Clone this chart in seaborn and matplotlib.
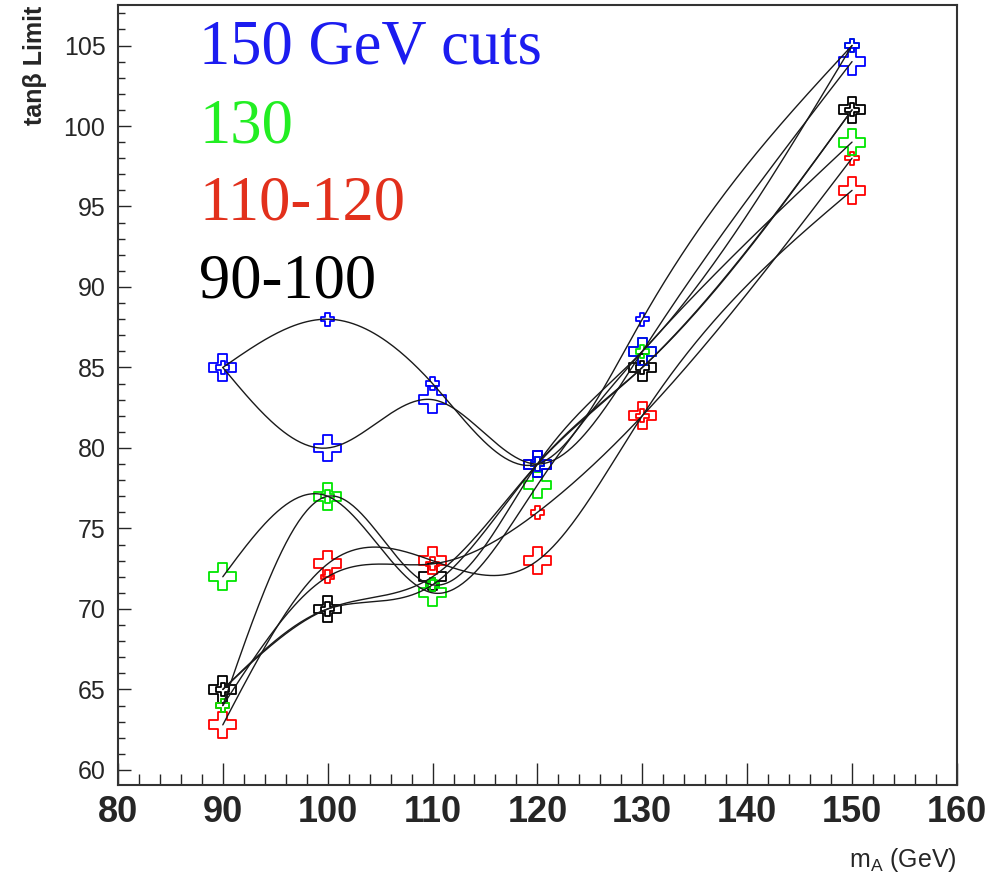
import numpy as np
import pandas as pd
import matplotlib
matplotlib.use('Agg')
import matplotlib.pyplot as plt
from matplotlib.ticker import MultipleLocator
import seaborn as sns

# Higgs mass points (GeV)
m_A = [90, 100, 110, 120, 130, 150]

# tan(beta) limits, two sets per cut (large / small markers)
blue_large  = [85, 80, 83, 79, 86, 104]
blue_small  = [85, 88, 84, 79, 88, 105]
green_large = [72, 77, 71, 77.7, 86, 99]
green_small = [64, 77, 71.5, 79, 86, 105]
red_large   = [62.8, 72.8, 73, 73, 82, 96]
red_small   = [64, 72, 72.8, 76, 82, 98]
black_large = [65, 70, 72, 79, 85, 101]
black_small = [65, 70, 71.5, 79, 85, 101]

legend_labels = ['150 GeV cuts', '130', '110-120', '90-100']
legend_colors = ['#1c1cf0', '#22ee22', '#e2301c', 'black']

# drawing order: blue last so it sits on top
series = [
    ('black', 'large', black_large), ('black', 'small', black_small),
    ('red', 'large', red_large), ('red', 'small', red_small),
    ('green', 'large', green_large), ('green', 'small', green_small),
    ('blue', 'large', blue_large), ('blue', 'small', blue_small),
]
marker_colors = {'blue': '#0000ff', 'green': '#00e600', 'red': '#ff0000', 'black': 'black'}
marker_sizes = {'large': 370, 'small': 90}


# natural cubic spline, like ROOT's smooth "C" draw option
def smooth_curve(x, y, n=300):
    x = np.asarray(x, float)
    y = np.asarray(y, float)
    k = len(x)
    h = np.diff(x)
    A = np.zeros((k, k))
    b = np.zeros(k)
    A[0, 0] = A[-1, -1] = 1
    for i in range(1, k - 1):
        A[i, i - 1] = h[i - 1]
        A[i, i] = 2 * (h[i - 1] + h[i])
        A[i, i + 1] = h[i]
        b[i] = 6 * ((y[i + 1] - y[i]) / h[i] - (y[i] - y[i - 1]) / h[i - 1])
    M = np.linalg.solve(A, b)
    xs = np.linspace(x[0], x[-1], n)
    idx = np.clip(np.searchsorted(x, xs) - 1, 0, k - 2)
    x0, x1 = x[idx], x[idx + 1]
    hh = x1 - x0
    t0 = x1 - xs
    t1 = xs - x0
    ys = (M[idx] * t0**3 + M[idx + 1] * t1**3) / (6 * hh) \
        + (y[idx] / hh - M[idx] * hh / 6) * t0 \
        + (y[idx + 1] / hh - M[idx + 1] * hh / 6) * t1
    return xs, ys


curves = []
for color, size, vals in series:
    xs, ys = smooth_curve(m_A, vals)
    curves.append(pd.DataFrame({'m_A': xs, 'limit': ys, 'id': color + size}))
curves = pd.concat(curves, ignore_index=True)

sns.set_style('ticks')
plt.rcParams['font.family'] = ['Liberation Sans', 'DejaVu Sans']

fig = plt.figure(figsize=(9.91, 8.77), dpi=100)
ax = fig.add_axes([0.119, 0.105, 0.8466, 0.889])

# markers (open crosses)
for color, size, vals in series:
    pts = sns.scatterplot(x=m_A, y=vals, marker='P', s=marker_sizes[size],
                          color=marker_colors[color], linewidth=1.3, ax=ax, zorder=3)
for coll in ax.collections:
    ec = coll.get_facecolor()
    coll.set_edgecolor(ec)
    coll.set_facecolor('none')

# smooth curves
sns.lineplot(data=curves, x='m_A', y='limit', units='id', estimator=None,
             color='#1a1a1a', lw=1.0, sort=False, ax=ax, zorder=4)

ax.set_xlim(80, 160)
ax.set_ylim(59.07, 107.5)
ax.xaxis.set_major_locator(MultipleLocator(10))
ax.xaxis.set_minor_locator(MultipleLocator(2))
ax.yaxis.set_major_locator(MultipleLocator(5))
ax.yaxis.set_minor_locator(MultipleLocator(1))
ax.tick_params(axis='x', which='major', direction='in', length=16, width=1, pad=7)
ax.tick_params(axis='x', which='minor', direction='in', length=8, width=1)
ax.tick_params(axis='y', which='major', direction='in', length=9, width=1, pad=9,
               labelsize=18)
ax.tick_params(axis='y', which='minor', direction='in', length=5, width=1)
for lab in ax.get_xticklabels():
    lab.set_family(['Liberation Sans Narrow', 'Liberation Sans'])
    lab.set_fontweight('bold')
    lab.set_fontsize(26)

for side in ['left', 'right', 'top', 'bottom']:
    ax.spines[side].set_visible(True)
    ax.spines[side].set_linewidth(1.5)
    ax.spines[side].set_color('#333333')

ax.set_xlabel(r'm$_{\mathregular{A}}$ (GeV)', fontsize=18, loc='right', labelpad=12)
ax.set_ylabel('tan\u03b2 Limit', fontsize=18, fontweight='bold', loc='top', labelpad=12)

ypos = [0.945, 0.843, 0.744, 0.644]
for lab, c, yy in zip(legend_labels, legend_colors, ypos):
    ax.text(0.097, yy, lab, transform=ax.transAxes, color=c, fontsize=45,
            family=['Liberation Serif', 'DejaVu Serif'], va='center', ha='left')

fig.savefig('out.png', dpi=100)
